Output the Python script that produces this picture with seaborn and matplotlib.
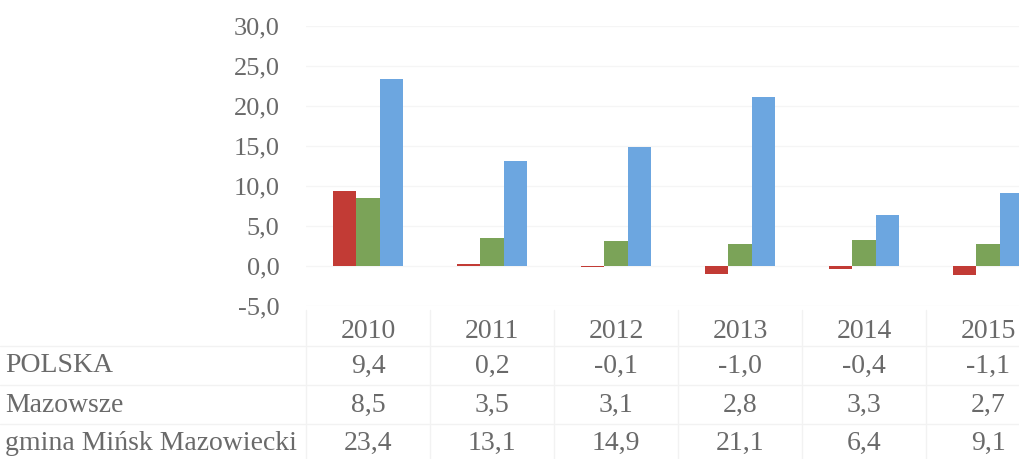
import seaborn as sns
import pandas as pd
import numpy as np
import matplotlib
matplotlib.use("Agg")
import matplotlib.pyplot as plt
from matplotlib.ticker import FuncFormatter, MultipleLocator
from matplotlib.transforms import blended_transform_factory

# dane z wykresu
lata = ["2010", "2011", "2012", "2013", "2014", "2015"]
serie = ["POLSKA", "Mazowsze", "gmina Mińsk Mazowiecki"]
polska = [9.4, 0.2, -0.1, -1.0, -0.4, -1.1]
mazowsze = [8.5, 3.5, 3.1, 2.8, 3.3, 2.7]
minsk = [23.4, 13.1, 14.9, 21.1, 6.4, 9.1]
kolory = ["#C23B35", "#7BA358", "#6CA6E0"]

df = pd.DataFrame({
    "rok": lata * 3,
    "seria": [s for s in serie for _ in lata],
    "wartosc": polska + mazowsze + minsk,
})

sns.set_theme(style="white")
plt.rcParams["font.family"] = ["Liberation Serif", "DejaVu Serif"]
szary = "#6a6a6a"

fig = plt.figure(figsize=(10.19, 4.59), dpi=100)
# os wychodzi poza prawa krawedz (oryginal jest przyciety)
ax = fig.add_axes([306 / 1019, 1 - 306 / 459, 744 / 1019, 280 / 459])

sns.barplot(data=df, x="rok", y="wartosc", hue="seria", hue_order=serie,
            order=lata, palette=kolory, width=0.57, saturation=1,
            linewidth=0, edgecolor="none", legend=False, ax=ax)

ax.set_xlim(-0.5, len(lata) - 0.5)
ax.set_ylim(-5, 30)
ax.yaxis.set_major_locator(MultipleLocator(5))
ax.yaxis.set_major_formatter(FuncFormatter(lambda v, p: f"{v:.1f}".replace(".", ",")))
ax.grid(axis="y", color="#f5f5f5", linewidth=1)
ax.set_axisbelow(True)
for s in ax.spines.values():
    s.set_visible(False)
ax.set_xlabel("")
ax.set_ylabel("")
ax.tick_params(axis="y", length=0, pad=19, labelsize=19, labelcolor=szary)
ax.tick_params(axis="x", length=0, pad=9, labelsize=20, labelcolor=szary)

# tabela danych pod wykresem
tr = blended_transform_factory(ax.transData, fig.transFigure)
wiersze_y = [1 - 366 / 459, 1 - 405 / 459, 1 - 443 / 459]
for nazwa, wart, y in zip(serie, [polska, mazowsze, minsk], wiersze_y):
    fig.text(5 / 1019, y, nazwa, ha="left", va="center", fontsize=20, color=szary)
    for i, v in enumerate(wart):
        ax.text(i, y, f"{v:.1f}".replace(".", ","), transform=tr, ha="center",
                va="center", fontsize=20, color=szary, clip_on=False)

# delikatne linie tabeli
for y in [1 - 346 / 459, 1 - 385 / 459, 1 - 424 / 459]:
    fig.add_artist(plt.Line2D([0, 1], [y, y], color="#f2f2f2", linewidth=1))
for i in range(len(lata)):
    ax.plot([i - 0.5, i - 0.5], [1 - 310 / 459, 0], transform=tr,
            color="#f2f2f2", linewidth=1, clip_on=False)

fig.savefig("out.png", dpi=100)
